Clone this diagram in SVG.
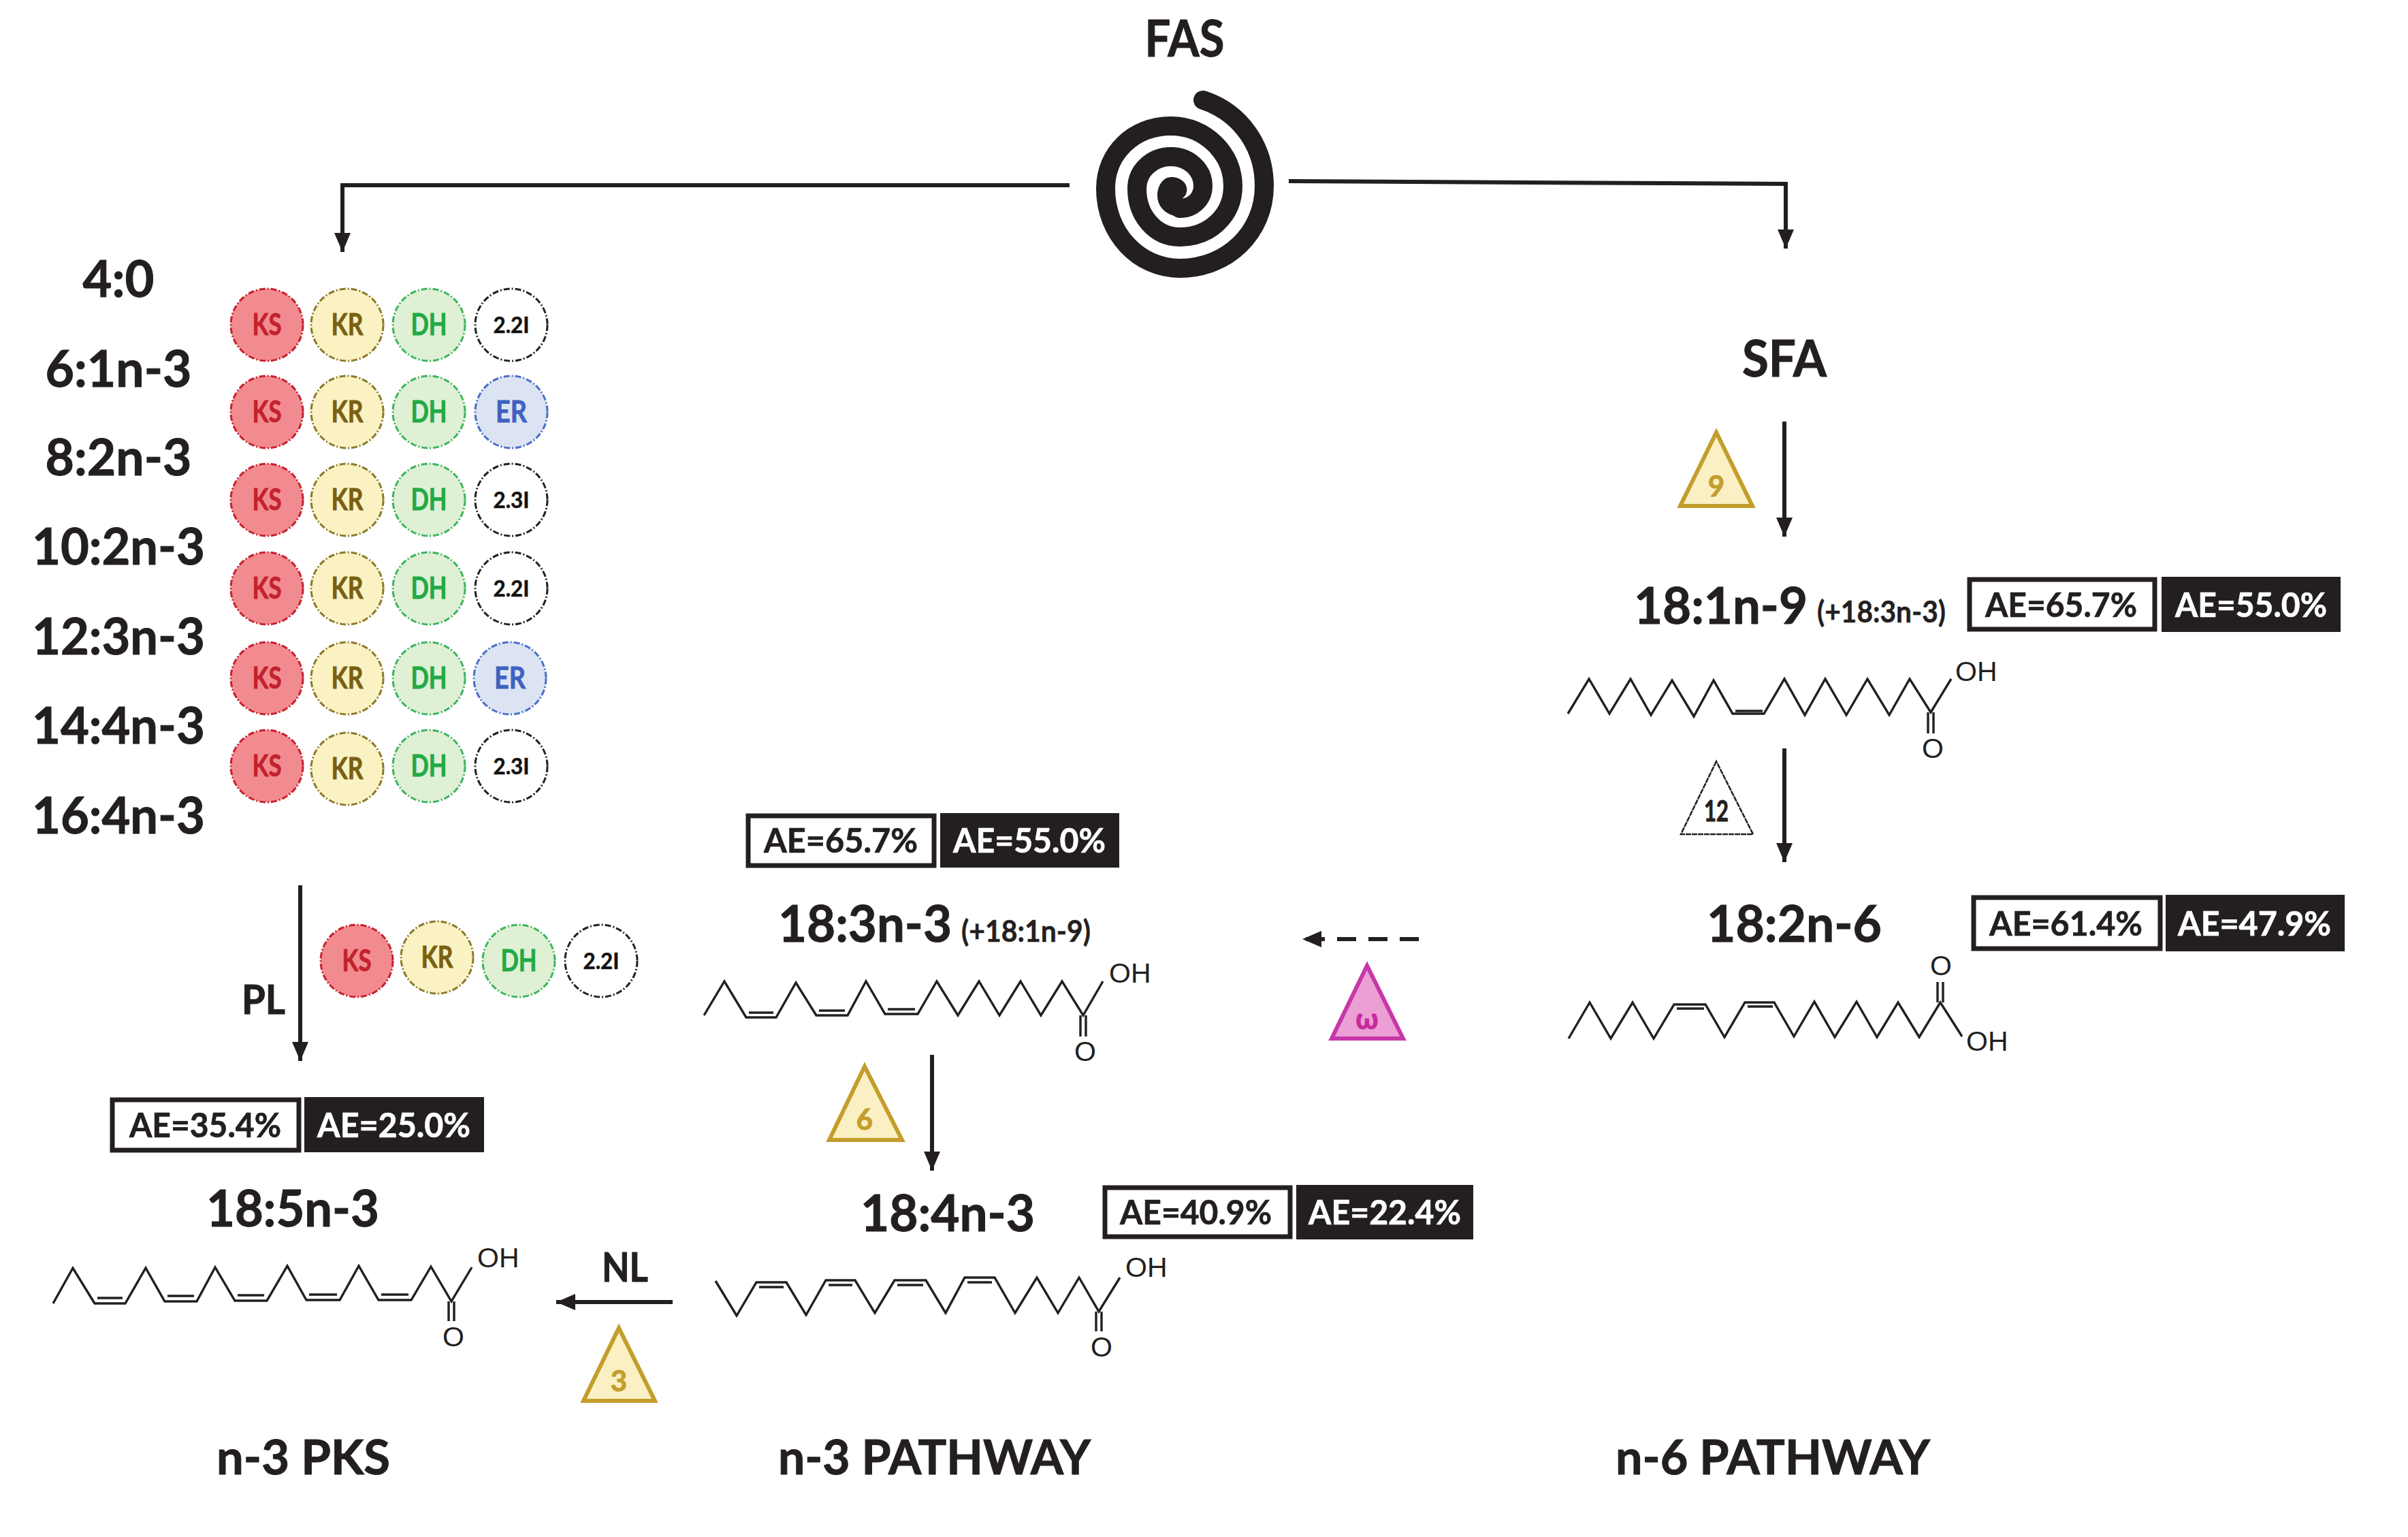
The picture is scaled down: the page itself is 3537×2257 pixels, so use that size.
<svg xmlns="http://www.w3.org/2000/svg" width="3537" height="2257" viewBox="0 0 3537 2257">
<style>
text{font-family:"Lato","Carlito","Liberation Sans",sans-serif;font-weight:700;fill:#231f20;stroke:#231f20;stroke-width:1}
.m{text-anchor:middle}
.h{font-size:75px}
.s{font-size:44px;stroke-width:.5}
.ae{font-size:50px;stroke-width:.7}
.aew{fill:#fff;stroke:#fff}
text.chem{font-family:"Liberation Sans",Arial,sans-serif;font-weight:400;font-size:41px;stroke-width:0}
.c{stroke-width:3;stroke-dasharray:9 3 2 3}
.ks{fill:#f28b8f;stroke:#c8202f}.kst{fill:#c3222e;stroke:#c3222e}
.kr{fill:#fbf2c4;stroke:#8c7a2a}.krt{fill:#7a6010;stroke:#7a6010}
.dh{fill:#dff0d5;stroke:#3fb55f}.dht{fill:#22aa44;stroke:#22aa44}
.er{fill:#dce4f3;stroke:#4a6fc8}.ert{fill:#3f62c0;stroke:#3f62c0}
.i{fill:#fff;stroke:#222}
.ct{font-size:44px;stroke-width:.8}
.it{font-size:33px;fill:#111;stroke-width:.6}
.mol{fill:none;stroke:#231f20;stroke-width:3.4;stroke-linejoin:miter}
.boxw{fill:#fff;stroke:#231f20;stroke-width:7}
.boxk{fill:#231f20}
.conn{fill:none;stroke:#231f20;stroke-width:6}
.tri{fill:#fbf0c4;stroke:#c39e2c;stroke-width:6;stroke-linejoin:miter}
.trit{fill:#c39e2c;stroke:#c39e2c;font-size:42px}
</style>
<defs>
<marker id="ah" markerUnits="userSpaceOnUse" markerWidth="30" markerHeight="26" refX="28" refY="13" orient="auto"><path d="M0 1L28 13L0 25Z" fill="#231f20"/></marker>
</defs>
<rect width="3537" height="2257" fill="#fff"/>

<g id="connectors">
<path class="conn" d="M1571 272H503V370" marker-end="url(#ah)"/>
<path class="conn" d="M1893 266L2623 270V365" marker-end="url(#ah)"/>
<path class="conn" d="M2621 619V788" marker-end="url(#ah)"/>
<path class="conn" d="M2621 1099V1266" marker-end="url(#ah)"/>
<path class="conn" d="M1369 1549V1719" marker-end="url(#ah)"/>
<path class="conn" d="M441 1300V1558" marker-end="url(#ah)"/>
<path class="conn" d="M988 1912H817" marker-end="url(#ah)"/>
<path class="conn" d="M2084 1379H1913" stroke-dasharray="28 18" marker-end="url(#ah)"/>
</g>

<g id="fas">
<text class="m" x="1740" y="83" font-size="74" textLength="117" lengthAdjust="spacingAndGlyphs">FAS</text>
<path d="M1767 147C1822 165 1857 215 1857 273C1857 342 1802 394 1733 394C1672 394 1624 342 1624 277C1624 225 1665 185 1720 185C1770 185 1811 225 1811 273C1811 316 1777 348 1733 348C1697 348 1670 317 1670 277C1670 250 1693 230 1720 230C1746 230 1767 249 1767 273C1767 292 1752 306 1733 306" fill="none" stroke="#231f20" stroke-width="28" stroke-linecap="round"/>
<path d="M1737 291C1748 284 1746 262 1722 260C1707 259 1700 275 1700 287C1700 305 1715 318 1735 318L1750 300Z" fill="#231f20"/>
</g>

<g id="chain-labels">
<text class="m h" x="174" y="436" textLength="105" lengthAdjust="spacingAndGlyphs">4:0</text>
<text class="m h" x="174" y="568" textLength="215" lengthAdjust="spacingAndGlyphs">6:1n-3</text>
<text class="m h" x="174" y="698" textLength="215" lengthAdjust="spacingAndGlyphs">8:2n-3</text>
<text class="m h" x="174" y="829" textLength="254" lengthAdjust="spacingAndGlyphs">10:2n-3</text>
<text class="m h" x="174" y="961" textLength="254" lengthAdjust="spacingAndGlyphs">12:3n-3</text>
<text class="m h" x="174" y="1092" textLength="254" lengthAdjust="spacingAndGlyphs">14:4n-3</text>
<text class="m h" x="174" y="1224" textLength="254" lengthAdjust="spacingAndGlyphs">16:4n-3</text>
</g>

<g id="pks-row-1">
<circle class="c ks" cx="392" cy="477" r="53"/><text class="m ct kst" x="392" y="492" textLength="43" lengthAdjust="spacingAndGlyphs">KS</text>
<circle class="c kr" cx="510" cy="477" r="53"/><text class="m ct krt" x="510" y="492" textLength="47" lengthAdjust="spacingAndGlyphs">KR</text>
<circle class="c dh" cx="630" cy="477" r="53"/><text class="m ct dht" x="630" y="492" textLength="53" lengthAdjust="spacingAndGlyphs">DH</text>
<circle class="c i" cx="751" cy="477" r="53"/><text class="m it" x="751" y="489" textLength="53" lengthAdjust="spacingAndGlyphs">2.2I</text>
</g>
<g id="pks-row-2">
<circle class="c ks" cx="392" cy="605" r="53"/><text class="m ct kst" x="392" y="620" textLength="43" lengthAdjust="spacingAndGlyphs">KS</text>
<circle class="c kr" cx="510" cy="605" r="53"/><text class="m ct krt" x="510" y="620" textLength="47" lengthAdjust="spacingAndGlyphs">KR</text>
<circle class="c dh" cx="630" cy="605" r="53"/><text class="m ct dht" x="630" y="620" textLength="53" lengthAdjust="spacingAndGlyphs">DH</text>
<circle class="c er" cx="751" cy="605" r="53"/><text class="m ct ert" x="751" y="620" textLength="46" lengthAdjust="spacingAndGlyphs">ER</text>
</g>
<g id="pks-row-3">
<circle class="c ks" cx="392" cy="734" r="53"/><text class="m ct kst" x="392" y="749" textLength="43" lengthAdjust="spacingAndGlyphs">KS</text>
<circle class="c kr" cx="510" cy="734" r="53"/><text class="m ct krt" x="510" y="749" textLength="47" lengthAdjust="spacingAndGlyphs">KR</text>
<circle class="c dh" cx="630" cy="734" r="53"/><text class="m ct dht" x="630" y="749" textLength="53" lengthAdjust="spacingAndGlyphs">DH</text>
<circle class="c i" cx="751" cy="734" r="53"/><text class="m it" x="751" y="746" textLength="53" lengthAdjust="spacingAndGlyphs">2.3I</text>
</g>
<g id="pks-row-4">
<circle class="c ks" cx="392" cy="864" r="53"/><text class="m ct kst" x="392" y="879" textLength="43" lengthAdjust="spacingAndGlyphs">KS</text>
<circle class="c kr" cx="510" cy="864" r="53"/><text class="m ct krt" x="510" y="879" textLength="47" lengthAdjust="spacingAndGlyphs">KR</text>
<circle class="c dh" cx="630" cy="864" r="53"/><text class="m ct dht" x="630" y="879" textLength="53" lengthAdjust="spacingAndGlyphs">DH</text>
<circle class="c i" cx="751" cy="864" r="53"/><text class="m it" x="751" y="876" textLength="53" lengthAdjust="spacingAndGlyphs">2.2I</text>
</g>
<g id="pks-row-5">
<circle class="c ks" cx="392" cy="996" r="53"/><text class="m ct kst" x="392" y="1011" textLength="43" lengthAdjust="spacingAndGlyphs">KS</text>
<circle class="c kr" cx="510" cy="996" r="53"/><text class="m ct krt" x="510" y="1011" textLength="47" lengthAdjust="spacingAndGlyphs">KR</text>
<circle class="c dh" cx="630" cy="996" r="53"/><text class="m ct dht" x="630" y="1011" textLength="53" lengthAdjust="spacingAndGlyphs">DH</text>
<circle class="c er" cx="749" cy="996" r="53"/><text class="m ct ert" x="749" y="1011" textLength="46" lengthAdjust="spacingAndGlyphs">ER</text>
</g>
<g id="pks-row-6">
<circle class="c ks" cx="392" cy="1125" r="53"/><text class="m ct kst" x="392" y="1140" textLength="43" lengthAdjust="spacingAndGlyphs">KS</text>
<circle class="c kr" cx="510" cy="1129" r="53"/><text class="m ct krt" x="510" y="1144" textLength="47" lengthAdjust="spacingAndGlyphs">KR</text>
<circle class="c dh" cx="630" cy="1125" r="53"/><text class="m ct dht" x="630" y="1140" textLength="53" lengthAdjust="spacingAndGlyphs">DH</text>
<circle class="c i" cx="751" cy="1125" r="53"/><text class="m it" x="751" y="1137" textLength="53" lengthAdjust="spacingAndGlyphs">2.3I</text>
</g>
<g id="pks-row-7">
<circle class="c ks" cx="524" cy="1411" r="53"/><text class="m ct kst" x="524" y="1426" textLength="43" lengthAdjust="spacingAndGlyphs">KS</text>
<circle class="c kr" cx="642" cy="1406" r="53"/><text class="m ct krt" x="642" y="1421" textLength="47" lengthAdjust="spacingAndGlyphs">KR</text>
<circle class="c dh" cx="762" cy="1411" r="53"/><text class="m ct dht" x="762" y="1426" textLength="53" lengthAdjust="spacingAndGlyphs">DH</text>
<circle class="c i" cx="883" cy="1411" r="53"/><text class="m it" x="883" y="1423" textLength="53" lengthAdjust="spacingAndGlyphs">2.2I</text>
</g>
<g id="pl-label"><text x="355" y="1489" font-size="60" textLength="64" lengthAdjust="spacingAndGlyphs">PL</text></g>

<g id="n-18-5n-3">
<rect class="boxw" x="165" y="1615" width="274" height="74"/>
<text class="ae" x="190" y="1670" textLength="223" lengthAdjust="spacingAndGlyphs">AE=35.4%</text>
<rect class="boxk" x="447" y="1611" width="264" height="81"/>
<text class="ae aew" x="466" y="1670" textLength="225" lengthAdjust="spacingAndGlyphs">AE=25.0%</text>
<text x="303" y="1801" font-size="75" textLength="254" lengthAdjust="spacingAndGlyphs">18:5n-3</text>
<path class="mol" d="M78 1914L107 1862L139 1914H184L214 1862L242 1911H289L316 1861L345 1910H392L422 1859L450 1909H499L527 1859L556 1909H604L633 1860L663 1911L693 1861"/>
<path class="mol" d="M143 1906H180M246 1903H285M349 1902H388M454 1901H495M560 1901H600M659 1911V1940M667 1911V1940"/>
<text class="chem" x="701" y="1861">OH</text>
<text class="chem m" x="666" y="1977">O</text>
</g>

<g id="nl-step">
<text x="884" y="1882" font-size="60" textLength="68" lengthAdjust="spacingAndGlyphs">NL</text>
<path class="tri" d="M909 1950L857 2057H962Z"/>
<text class="m trit" x="909" y="2043">3</text>
</g>

<g id="n-18-3n-3">
<rect class="boxw" x="1099" y="1198" width="273" height="73"/>
<text class="ae" x="1122" y="1252" textLength="226" lengthAdjust="spacingAndGlyphs">AE=65.7%</text>
<rect class="boxk" x="1381" y="1194" width="263" height="80"/>
<text class="ae aew" x="1400" y="1252" textLength="224" lengthAdjust="spacingAndGlyphs">AE=55.0%</text>
<text x="1143" y="1383" font-size="75" textLength="255" lengthAdjust="spacingAndGlyphs">18:3n-3</text>
<text class="s" x="1412" y="1383" textLength="190" lengthAdjust="spacingAndGlyphs">(+18:1n-9)</text>
<path class="mol" d="M1034 1491L1064 1441L1096 1494H1140L1169 1443L1199 1491H1245L1272 1441L1300 1489H1348L1376 1441L1407 1491L1438 1441L1468 1491L1499 1441L1529 1491L1560 1441L1591 1491L1620 1441"/>
<path class="mol" d="M1100 1487H1136M1203 1484H1241M1304 1482H1344M1587 1491V1522M1595 1491V1522"/>
<text class="chem" x="1629" y="1443">OH</text>
<text class="chem m" x="1594" y="1558">O</text>
</g>

<g id="delta-6">
<path class="tri" d="M1270 1566L1218 1674H1325Z"/>
<text class="m trit" x="1270" y="1659">6</text>
</g>

<g id="n-18-4n-3">
<text x="1264" y="1808" font-size="75" textLength="256" lengthAdjust="spacingAndGlyphs">18:4n-3</text>
<rect class="boxw" x="1623" y="1744" width="272" height="72"/>
<text class="ae" x="1645" y="1798" textLength="223" lengthAdjust="spacingAndGlyphs">AE=40.9%</text>
<rect class="boxk" x="1904" y="1740" width="260" height="80"/>
<text class="ae aew" x="1922" y="1798" textLength="224" lengthAdjust="spacingAndGlyphs">AE=22.4%</text>
<path class="mol" d="M1051 1881L1082 1932L1111 1883H1155L1184 1931L1213 1880H1256L1285 1928L1314 1880H1360L1389 1928L1417 1876H1461L1491 1928L1523 1876L1554 1928L1585 1876L1614 1926L1645 1876"/>
<path class="mol" d="M1115 1890H1151M1217 1887H1252M1318 1887H1356M1421 1883H1457M1610 1926V1955M1618 1926V1955"/>
<text class="chem" x="1653" y="1875">OH</text>
<text class="chem m" x="1618" y="1992">O</text>
</g>

<g id="omega">
<path d="M2008 1418L1956 1525H2061Z" fill="#eb9fd4" stroke="#c837a8" stroke-width="6"/>
<text class="m" x="2008" y="1511" font-size="42" style="fill:#c82aa0;stroke:#c82aa0">ω</text>
</g>

<g id="sfa"><text class="m" x="2621" y="553" font-size="75" textLength="124" lengthAdjust="spacingAndGlyphs">SFA</text></g>

<g id="delta-9">
<path class="tri" d="M2521 635L2468 743H2574Z"/>
<text class="m trit" x="2521" y="729">9</text>
</g>

<g id="n-18-1n-9">
<text x="2400" y="916" font-size="75" textLength="255" lengthAdjust="spacingAndGlyphs">18:1n-9</text>
<text class="s" x="2669" y="914" textLength="189" lengthAdjust="spacingAndGlyphs">(+18:3n-3)</text>
<rect class="boxw" x="2893" y="851" width="272" height="73"/>
<text class="ae" x="2916" y="906" textLength="223" lengthAdjust="spacingAndGlyphs">AE=65.7%</text>
<rect class="boxk" x="3175" y="847" width="263" height="81"/>
<text class="ae aew" x="3195" y="906" textLength="223" lengthAdjust="spacingAndGlyphs">AE=55.0%</text>
<path class="mol" d="M2303 1048L2334 997L2364 1048L2395 997L2425 1050L2456 999L2488 1052L2517 999L2545 1048H2591L2621 997L2651 1050L2681 997L2712 1050L2743 997L2775 1050L2805 997L2836 1046L2866 997"/>
<path class="mol" d="M2549 1044H2589M2832 1046V1077M2840 1046V1077"/>
<text class="chem" x="2872" y="1000">OH</text>
<text class="chem m" x="2839" y="1113">O</text>
</g>

<g id="delta-12">
<path d="M2521 1118L2469 1225H2575Z" fill="#fff" stroke="#231f20" stroke-width="2.5" stroke-dasharray="8 1"/>
<text class="m" x="2521" y="1206" font-size="42" textLength="36" lengthAdjust="spacingAndGlyphs">12</text>
</g>

<g id="n-18-2n-6">
<text x="2507" y="1383" font-size="75" textLength="257" lengthAdjust="spacingAndGlyphs">18:2n-6</text>
<rect class="boxw" x="2899" y="1318" width="274" height="75"/>
<text class="ae" x="2922" y="1374" textLength="225" lengthAdjust="spacingAndGlyphs">AE=61.4%</text>
<rect class="boxk" x="3181" y="1314" width="263" height="83"/>
<text class="ae aew" x="3199" y="1374" textLength="225" lengthAdjust="spacingAndGlyphs">AE=47.9%</text>
<path class="mol" d="M2304 1525L2335 1472L2366 1525L2398 1472L2429 1525L2459 1475H2505L2533 1523L2563 1472H2606L2635 1522L2665 1471L2695 1523L2727 1471L2757 1523L2788 1472L2819 1523L2850 1472L2882 1522"/>
<path class="mol" d="M2463 1481H2503M2567 1478H2604M2846 1472V1442M2854 1472V1442"/>
<text class="chem m" x="2851" y="1432">O</text>
<text class="chem" x="2888" y="1543">OH</text>
</g>

<g id="pathway-titles">
<text x="318" y="2165" font-size="70" textLength="255" lengthAdjust="spacingAndGlyphs">n-3 PKS</text>
<text x="1143" y="2165" font-size="70" textLength="459" lengthAdjust="spacingAndGlyphs">n-3 PATHWAY</text>
<text x="2373" y="2165" font-size="70" textLength="462" lengthAdjust="spacingAndGlyphs">n-6 PATHWAY</text>
</g>
</svg>
